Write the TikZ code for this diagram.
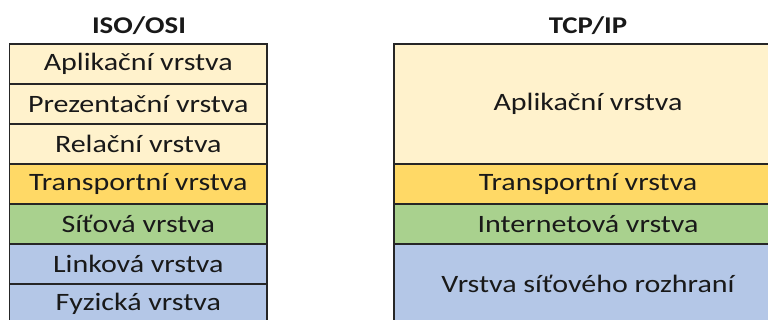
\documentclass[tikz,border=0pt]{standalone}
\usepackage{fontspec}
\setmainfont{Carlito}
\newfontfamily\bodyfont[FakeStretch=1.2]{Carlito}
\newfontfamily\titlefont[FakeStretch=1.2]{Carlito}
\definecolor{cream}{HTML}{FFF2CC}
\definecolor{gold}{HTML}{FFD966}
\definecolor{leaf}{HTML}{A9D18E}
\definecolor{sky}{HTML}{B4C7E7}
\begin{document}
\begin{tikzpicture}[x=1pt,y=-1pt,
  layer/.style={draw=black!85, line width=1.4pt, inner sep=0pt, outer sep=0pt, text=black!90, font=\bodyfont\fontsize{25}{28}\selectfont},
  lcell/.style={layer, minimum width=257.5pt, minimum height=40pt},
  rcell/.style={layer, minimum width=388pt},
  title/.style={text=black!90, font=\titlefont\bfseries\fontsize{24}{28}\selectfont}]
\useasboundingbox (0,0) rectangle (768,320);
\fill[white] (0,0) rectangle (768,320);
\node[title] (t1) at (139,26) {ISO/OSI};
\node[title] (t2) at (588,26) {TCP/IP};
\node[lcell, fill=cream] (l1) at (138.25,64) {Aplikační vrstva};
\node[lcell, fill=cream] (l2) at (138.25,104) {Prezentační vrstva};
\node[lcell, fill=cream] (l3) at (138.25,144) {Relační vrstva};
\node[lcell, fill=gold] (l4) at (138.25,184) {Transportní vrstva};
\node[lcell, fill=leaf] (l5) at (138.25,224) {Síťová vrstva};
\node[lcell, fill=sky] (l6) at (138.25,264) {Linková vrstva};
\node[lcell, fill=sky] (l7) at (138.25,304) {Fyzická vrstva};
\node[rcell, fill=cream, minimum height=120pt] (r1) at (588,104) {Aplikační vrstva};
\node[rcell, fill=gold, minimum height=40pt] (r2) at (588,184) {Transportní vrstva};
\node[rcell, fill=leaf, minimum height=40pt] (r3) at (588,224) {Internetová vrstva};
\node[rcell, fill=sky, minimum height=80pt] (r4) at (588,284) {Vrstva síťového rozhraní};
\end{tikzpicture}
\end{document}
